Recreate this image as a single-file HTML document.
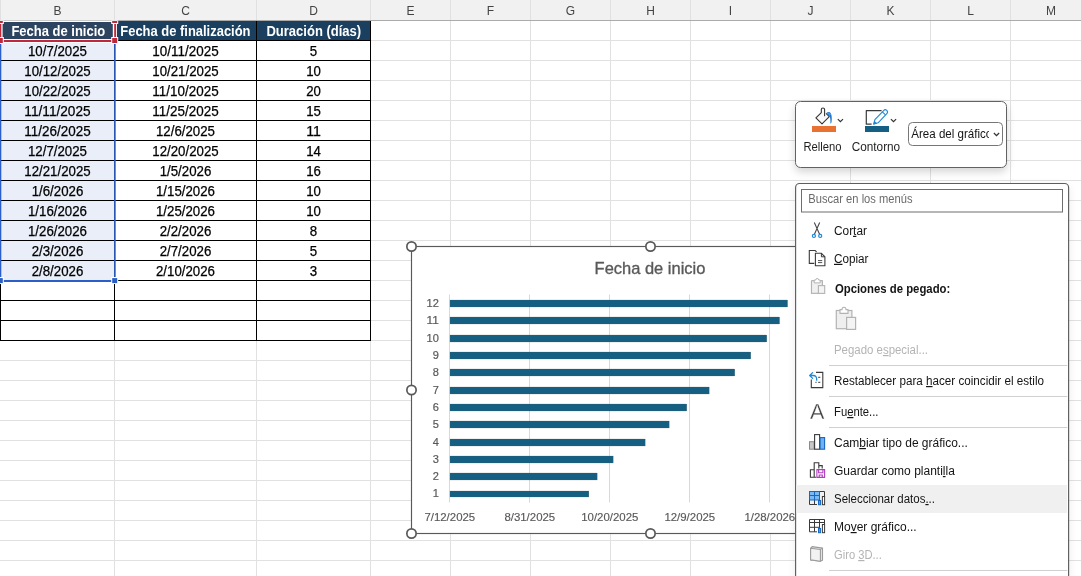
<!DOCTYPE html>
<html lang="es">
<head>
<meta charset="utf-8">
<title>Excel - Diagrama de Gantt</title>
<style>
html,body{margin:0;padding:0;background:#fff;overflow:hidden}
body{width:1081px;height:576px}
svg{display:block;font-family:"Liberation Sans",sans-serif}
</style>
</head>
<body>
<svg width="1081" height="576" viewBox="0 0 1081 576">
<defs>
<filter id="sh" x="-10%" y="-10%" width="120%" height="130%"><feGaussianBlur in="SourceAlpha" stdDeviation="4"/><feOffset dy="4"/><feComponentTransfer><feFuncA type="linear" slope="0.17"/></feComponentTransfer></filter>
<filter id="sh2" x="-10%" y="-10%" width="120%" height="130%"><feGaussianBlur in="SourceAlpha" stdDeviation="4"/><feOffset dy="2"/><feComponentTransfer><feFuncA type="linear" slope="0.08"/></feComponentTransfer></filter>
</defs>
<g id="sheet">
<rect x="0" y="0" width="1081" height="576" fill="#ffffff" />
<rect x="114" y="20" width="1" height="556" fill="#e1e1e1" />
<rect x="256" y="20" width="1" height="556" fill="#e1e1e1" />
<rect x="370" y="20" width="1" height="556" fill="#e1e1e1" />
<rect x="450" y="20" width="1" height="556" fill="#e1e1e1" />
<rect x="530" y="20" width="1" height="556" fill="#e1e1e1" />
<rect x="610" y="20" width="1" height="556" fill="#e1e1e1" />
<rect x="690" y="20" width="1" height="556" fill="#e1e1e1" />
<rect x="770" y="20" width="1" height="556" fill="#e1e1e1" />
<rect x="850" y="20" width="1" height="556" fill="#e1e1e1" />
<rect x="930" y="20" width="1" height="556" fill="#e1e1e1" />
<rect x="1010" y="20" width="1" height="556" fill="#e1e1e1" />
<rect x="0" y="40" width="1081" height="1" fill="#e1e1e1" />
<rect x="0" y="60" width="1081" height="1" fill="#e1e1e1" />
<rect x="0" y="80" width="1081" height="1" fill="#e1e1e1" />
<rect x="0" y="100" width="1081" height="1" fill="#e1e1e1" />
<rect x="0" y="120" width="1081" height="1" fill="#e1e1e1" />
<rect x="0" y="140" width="1081" height="1" fill="#e1e1e1" />
<rect x="0" y="160" width="1081" height="1" fill="#e1e1e1" />
<rect x="0" y="180" width="1081" height="1" fill="#e1e1e1" />
<rect x="0" y="200" width="1081" height="1" fill="#e1e1e1" />
<rect x="0" y="220" width="1081" height="1" fill="#e1e1e1" />
<rect x="0" y="240" width="1081" height="1" fill="#e1e1e1" />
<rect x="0" y="260" width="1081" height="1" fill="#e1e1e1" />
<rect x="0" y="280" width="1081" height="1" fill="#e1e1e1" />
<rect x="0" y="300" width="1081" height="1" fill="#e1e1e1" />
<rect x="0" y="320" width="1081" height="1" fill="#e1e1e1" />
<rect x="0" y="340" width="1081" height="1" fill="#e1e1e1" />
<rect x="0" y="360" width="1081" height="1" fill="#e1e1e1" />
<rect x="0" y="380" width="1081" height="1" fill="#e1e1e1" />
<rect x="0" y="400" width="1081" height="1" fill="#e1e1e1" />
<rect x="0" y="420" width="1081" height="1" fill="#e1e1e1" />
<rect x="0" y="440" width="1081" height="1" fill="#e1e1e1" />
<rect x="0" y="460" width="1081" height="1" fill="#e1e1e1" />
<rect x="0" y="480" width="1081" height="1" fill="#e1e1e1" />
<rect x="0" y="500" width="1081" height="1" fill="#e1e1e1" />
<rect x="0" y="520" width="1081" height="1" fill="#e1e1e1" />
<rect x="0" y="540" width="1081" height="1" fill="#e1e1e1" />
<rect x="0" y="560" width="1081" height="1" fill="#e1e1e1" />
<rect x="0" y="0" width="1081" height="20" fill="#f1f1f1" />
<rect x="0" y="20" width="1081" height="1" fill="#ababab" />
<rect x="0" y="0" width="1" height="20" fill="#e0e0e0" />
<rect x="114" y="0" width="1" height="20" fill="#e0e0e0" />
<rect x="256" y="0" width="1" height="20" fill="#e0e0e0" />
<rect x="370" y="0" width="1" height="20" fill="#e0e0e0" />
<rect x="450" y="0" width="1" height="20" fill="#e0e0e0" />
<rect x="530" y="0" width="1" height="20" fill="#e0e0e0" />
<rect x="610" y="0" width="1" height="20" fill="#e0e0e0" />
<rect x="690" y="0" width="1" height="20" fill="#e0e0e0" />
<rect x="770" y="0" width="1" height="20" fill="#e0e0e0" />
<rect x="850" y="0" width="1" height="20" fill="#e0e0e0" />
<rect x="930" y="0" width="1" height="20" fill="#e0e0e0" />
<rect x="1010" y="0" width="1" height="20" fill="#e0e0e0" />
<g font-size="12" fill="#444444" text-anchor="middle">
<text x="57.5" y="15">B</text>
<text x="185.5" y="15">C</text>
<text x="313.5" y="15">D</text>
<text x="410.5" y="15">E</text>
<text x="490.5" y="15">F</text>
<text x="570.5" y="15">G</text>
<text x="650.5" y="15">H</text>
<text x="730.5" y="15">I</text>
<text x="810.5" y="15">J</text>
<text x="890.5" y="15">K</text>
<text x="970.5" y="15">L</text>
<text x="1051" y="15">M</text>
</g>
</g>
<g id="table">
<rect x="1" y="41" width="113" height="239" fill="#e9eef8" />
<rect x="1" y="21" width="113" height="19" fill="#2c4460" />
<rect x="115" y="21" width="141" height="19" fill="#1b405f" />
<rect x="257" y="21" width="113" height="19" fill="#1b405f" />
<rect x="0" y="40" width="371" height="1" fill="#000000" />
<rect x="0" y="60" width="371" height="1" fill="#000000" />
<rect x="0" y="80" width="371" height="1" fill="#000000" />
<rect x="0" y="100" width="371" height="1" fill="#000000" />
<rect x="0" y="120" width="371" height="1" fill="#000000" />
<rect x="0" y="140" width="371" height="1" fill="#000000" />
<rect x="0" y="160" width="371" height="1" fill="#000000" />
<rect x="0" y="180" width="371" height="1" fill="#000000" />
<rect x="0" y="200" width="371" height="1" fill="#000000" />
<rect x="0" y="220" width="371" height="1" fill="#000000" />
<rect x="0" y="240" width="371" height="1" fill="#000000" />
<rect x="0" y="260" width="371" height="1" fill="#000000" />
<rect x="0" y="280" width="371" height="1" fill="#000000" />
<rect x="0" y="300" width="371" height="1" fill="#000000" />
<rect x="0" y="320" width="371" height="1" fill="#000000" />
<rect x="0" y="340" width="371" height="1" fill="#000000" />
<rect x="0" y="21" width="1" height="320" fill="#000000" />
<rect x="114" y="21" width="1" height="320" fill="#000000" />
<rect x="256" y="21" width="1" height="320" fill="#000000" />
<rect x="370" y="21" width="1" height="320" fill="#000000" />
<g font-size="14" fill="#000000" text-anchor="middle" stroke="#000000" stroke-width="0.25">
<text x="57.5" y="56" textLength="59.0" lengthAdjust="spacingAndGlyphs">10/7/2025</text>
<text x="185.5" y="56" textLength="66.3" lengthAdjust="spacingAndGlyphs">10/11/2025</text>
<text x="313.5" y="56" textLength="7.4" lengthAdjust="spacingAndGlyphs">5</text>
<text x="57.5" y="76" textLength="66.3" lengthAdjust="spacingAndGlyphs">10/12/2025</text>
<text x="185.5" y="76" textLength="66.3" lengthAdjust="spacingAndGlyphs">10/21/2025</text>
<text x="313.5" y="76" textLength="14.7" lengthAdjust="spacingAndGlyphs">10</text>
<text x="57.5" y="96" textLength="66.3" lengthAdjust="spacingAndGlyphs">10/22/2025</text>
<text x="185.5" y="96" textLength="66.3" lengthAdjust="spacingAndGlyphs">11/10/2025</text>
<text x="313.5" y="96" textLength="14.7" lengthAdjust="spacingAndGlyphs">20</text>
<text x="57.5" y="116" textLength="66.3" lengthAdjust="spacingAndGlyphs">11/11/2025</text>
<text x="185.5" y="116" textLength="66.3" lengthAdjust="spacingAndGlyphs">11/25/2025</text>
<text x="313.5" y="116" textLength="14.7" lengthAdjust="spacingAndGlyphs">15</text>
<text x="57.5" y="136" textLength="66.3" lengthAdjust="spacingAndGlyphs">11/26/2025</text>
<text x="185.5" y="136" textLength="59.0" lengthAdjust="spacingAndGlyphs">12/6/2025</text>
<text x="313.5" y="136" textLength="14.7" lengthAdjust="spacingAndGlyphs">11</text>
<text x="57.5" y="156" textLength="59.0" lengthAdjust="spacingAndGlyphs">12/7/2025</text>
<text x="185.5" y="156" textLength="66.3" lengthAdjust="spacingAndGlyphs">12/20/2025</text>
<text x="313.5" y="156" textLength="14.7" lengthAdjust="spacingAndGlyphs">14</text>
<text x="57.5" y="176" textLength="66.3" lengthAdjust="spacingAndGlyphs">12/21/2025</text>
<text x="185.5" y="176" textLength="51.6" lengthAdjust="spacingAndGlyphs">1/5/2026</text>
<text x="313.5" y="176" textLength="14.7" lengthAdjust="spacingAndGlyphs">16</text>
<text x="57.5" y="196" textLength="51.6" lengthAdjust="spacingAndGlyphs">1/6/2026</text>
<text x="185.5" y="196" textLength="59.0" lengthAdjust="spacingAndGlyphs">1/15/2026</text>
<text x="313.5" y="196" textLength="14.7" lengthAdjust="spacingAndGlyphs">10</text>
<text x="57.5" y="216" textLength="59.0" lengthAdjust="spacingAndGlyphs">1/16/2026</text>
<text x="185.5" y="216" textLength="59.0" lengthAdjust="spacingAndGlyphs">1/25/2026</text>
<text x="313.5" y="216" textLength="14.7" lengthAdjust="spacingAndGlyphs">10</text>
<text x="57.5" y="236" textLength="59.0" lengthAdjust="spacingAndGlyphs">1/26/2026</text>
<text x="185.5" y="236" textLength="51.6" lengthAdjust="spacingAndGlyphs">2/2/2026</text>
<text x="313.5" y="236" textLength="7.4" lengthAdjust="spacingAndGlyphs">8</text>
<text x="57.5" y="256" textLength="51.6" lengthAdjust="spacingAndGlyphs">2/3/2026</text>
<text x="185.5" y="256" textLength="51.6" lengthAdjust="spacingAndGlyphs">2/7/2026</text>
<text x="313.5" y="256" textLength="7.4" lengthAdjust="spacingAndGlyphs">5</text>
<text x="57.5" y="276" textLength="51.6" lengthAdjust="spacingAndGlyphs">2/8/2026</text>
<text x="185.5" y="276" textLength="59.0" lengthAdjust="spacingAndGlyphs">2/10/2026</text>
<text x="313.5" y="276" textLength="7.4" lengthAdjust="spacingAndGlyphs">3</text>
</g>
<g font-size="14" fill="#ffffff" font-weight="bold" text-anchor="middle">
<text x="58.3" y="36" textLength="93.8" lengthAdjust="spacingAndGlyphs">Fecha de inicio</text>
<text x="185.4" y="36" textLength="130.2" lengthAdjust="spacingAndGlyphs">Fecha de finalización</text>
<text x="313.8" y="36" textLength="94.8" lengthAdjust="spacingAndGlyphs">Duración (días)</text>
</g>
<rect x="0" y="43" width="1.3" height="238" fill="#2b5fc7" />
<rect x="114.1" y="43" width="1.6" height="238" fill="#2b5fc7" />
<rect x="0" y="280" width="116" height="2" fill="#2b5fc7" />
<rect x="-3.2" y="277" width="7" height="7" fill="#ffffff" />
<rect x="-2.2" y="278.1" width="5" height="5" fill="#2b5fc7" />
<rect x="111.2" y="277" width="7" height="7" fill="#ffffff" />
<rect x="112.2" y="278.1" width="5" height="5" fill="#2b5fc7" />
<rect x="-1" y="20.6" width="118" height="0.4" fill="#ffffff" />
<rect x="112.5" y="21" width="4.5" height="22" fill="#ffffff" />
<rect x="0" y="39" width="117" height="4" fill="#ffffff" />
<rect x="0" y="21" width="1.3" height="20" fill="#c0273a" />
<rect x="114.2" y="21" width="1.9" height="20" fill="#c0273a" />
<rect x="0" y="40" width="116" height="2" fill="#c0273a" />
<rect x="2.6" y="22" width="110" height="17" fill="#2c4460" />
<rect x="1.3" y="21" width="1.3" height="18" fill="#ffffff" />
<rect x="2" y="21" width="111" height="1" fill="#ffffff" />
<rect x="-3.2" y="37" width="7" height="7" fill="#ffffff" />
<rect x="-2.2" y="38" width="5" height="5" fill="#c0273a" />
<rect x="-3.2" y="20.5" width="7" height="3.5" fill="#ffffff" />
<rect x="-2.2" y="21" width="5" height="2" fill="#c0273a" />
<rect x="111.2" y="37" width="7" height="7" fill="#ffffff" />
<rect x="112.2" y="38" width="5" height="5" fill="#c0273a" />
<rect x="111.2" y="20.5" width="7" height="3.5" fill="#ffffff" />
<rect x="112.2" y="21" width="5" height="2" fill="#c0273a" />
<text x="58.3" y="36" font-size="14" fill="#ffffff" font-weight="bold" text-anchor="middle" textLength="93.8" lengthAdjust="spacingAndGlyphs">Fecha de inicio</text>
</g>
<g id="chart">
<rect x="411.5" y="246.5" width="478" height="287" fill="#ffffff" stroke="#595959" stroke-width="1.15"/>
<rect x="449" y="294.5" width="1" height="208" fill="#d9d9d9" />
<rect x="529" y="294.5" width="1" height="208" fill="#d9d9d9" />
<rect x="609" y="294.5" width="1" height="208" fill="#d9d9d9" />
<rect x="689" y="294.5" width="1" height="208" fill="#d9d9d9" />
<rect x="769" y="294.5" width="1" height="208" fill="#d9d9d9" />
<rect x="849" y="294.5" width="1" height="208" fill="#d9d9d9" />
<g font-size="10.8" fill="#595959" text-anchor="end" stroke="#595959" stroke-width="0.2">
<rect x="450" y="491" width="138.9" height="6" fill="#156082" />
<text x="438.8" y="496.9" textLength="6.15" lengthAdjust="spacingAndGlyphs">1</text>
<rect x="450" y="473" width="147.2" height="7" fill="#156082" />
<text x="438.8" y="479.9" textLength="6.15" lengthAdjust="spacingAndGlyphs">2</text>
<rect x="450" y="456" width="163.2" height="7" fill="#156082" />
<text x="438.8" y="462.9" textLength="6.15" lengthAdjust="spacingAndGlyphs">3</text>
<rect x="450" y="439" width="195.2" height="7" fill="#156082" />
<text x="438.8" y="445.9" textLength="6.15" lengthAdjust="spacingAndGlyphs">4</text>
<rect x="450" y="421" width="219.2" height="7" fill="#156082" />
<text x="438.8" y="427.9" textLength="6.15" lengthAdjust="spacingAndGlyphs">5</text>
<rect x="450" y="404" width="236.8" height="7" fill="#156082" />
<text x="438.8" y="410.9" textLength="6.15" lengthAdjust="spacingAndGlyphs">6</text>
<rect x="450" y="387" width="259.2" height="7" fill="#156082" />
<text x="438.8" y="393.9" textLength="6.15" lengthAdjust="spacingAndGlyphs">7</text>
<rect x="450" y="369" width="284.8" height="7" fill="#156082" />
<text x="438.8" y="375.9" textLength="6.15" lengthAdjust="spacingAndGlyphs">8</text>
<rect x="450" y="352" width="300.8" height="7" fill="#156082" />
<text x="438.8" y="358.9" textLength="6.15" lengthAdjust="spacingAndGlyphs">9</text>
<rect x="450" y="335" width="316.8" height="7" fill="#156082" />
<text x="438.8" y="341.9" textLength="12.3" lengthAdjust="spacingAndGlyphs">10</text>
<rect x="450" y="317" width="329.6" height="7" fill="#156082" />
<text x="438.8" y="323.9" textLength="12.3" lengthAdjust="spacingAndGlyphs">11</text>
<rect x="450" y="300" width="337.6" height="7" fill="#156082" />
<text x="438.8" y="306.9" textLength="12.3" lengthAdjust="spacingAndGlyphs">12</text>
</g>
<g font-size="11.3" fill="#595959" text-anchor="middle" stroke="#595959" stroke-width="0.15">
<text x="449.8" y="520.5" textLength="50.8" lengthAdjust="spacingAndGlyphs">7/12/2025</text>
<text x="529.8" y="520.5" textLength="50.8" lengthAdjust="spacingAndGlyphs">8/31/2025</text>
<text x="609.8" y="520.5" textLength="57.2" lengthAdjust="spacingAndGlyphs">10/20/2025</text>
<text x="689.8" y="520.5" textLength="50.8" lengthAdjust="spacingAndGlyphs">12/9/2025</text>
<text x="769.8" y="520.5" textLength="50.8" lengthAdjust="spacingAndGlyphs">1/28/2026</text>
</g>
<text x="650" y="274.4" text-anchor="middle" textLength="110.8" lengthAdjust="spacingAndGlyphs" font-size="17" fill="#595959" stroke="#595959" stroke-width="0.35">Fecha de inicio</text>
<circle cx="411.5" cy="246.5" r="4.65" fill="#ffffff" stroke="#595959" stroke-width="1.7"/>
<circle cx="650.5" cy="246.5" r="4.65" fill="#ffffff" stroke="#595959" stroke-width="1.7"/>
<circle cx="411.5" cy="390" r="4.65" fill="#ffffff" stroke="#595959" stroke-width="1.7"/>
<circle cx="411.5" cy="533.5" r="4.65" fill="#ffffff" stroke="#595959" stroke-width="1.7"/>
<circle cx="650.5" cy="533.5" r="4.65" fill="#ffffff" stroke="#595959" stroke-width="1.7"/>
<circle cx="889.5" cy="246.5" r="4.65" fill="#ffffff" stroke="#595959" stroke-width="1.7"/>
<circle cx="889.5" cy="390" r="4.65" fill="#ffffff" stroke="#595959" stroke-width="1.7"/>
<circle cx="889.5" cy="533.5" r="4.65" fill="#ffffff" stroke="#595959" stroke-width="1.7"/>
</g>
<g id="minitoolbar">
<rect x="795.5" y="101.5" width="211" height="66" rx="5" fill="#ffffff" stroke="#626262" filter="url(#sh)"/>
<rect x="795.5" y="101.5" width="211" height="66" rx="5" fill="#ffffff" stroke="#626262"/>
<rect x="812" y="126" width="24" height="6" fill="#e97132" />
<rect x="865" y="126" width="24" height="6" fill="#156082" />
<g font-size="12" fill="#1f1f1f">
<text x="803.4" y="151.1" textLength="38.1" lengthAdjust="spacingAndGlyphs">Relleno</text>
<text x="851.7" y="151.1" textLength="48.5" lengthAdjust="spacingAndGlyphs">Contorno</text>
</g>
<rect x="908.5" y="122.5" width="94" height="23" rx="4" fill="#ffffff" stroke="#777777"/>
<clipPath id="ddc"><rect x="909" y="123" width="80" height="22"/></clipPath>
<g clip-path="url(#ddc)">
<text x="911.3" y="137.8" textLength="80.9" lengthAdjust="spacingAndGlyphs" font-size="12" fill="#141414">Área del gráfico</text>
</g>
<path d="M993.9 133 l2.6 2.6 l2.6 -2.6" fill="none" stroke="#333" stroke-width="1.3"/>
<path d="M837.8 119.1 l2.6 2.6 l2.6 -2.6" fill="none" stroke="#333" stroke-width="1.2"/>
<path d="M890.9 119.1 l2.6 2.6 l2.6 -2.6" fill="none" stroke="#333" stroke-width="1.2"/>
<g id="ico-fill" fill="none" stroke-linejoin="round" stroke-linecap="round">
<path d="M824.6 115.7 V109.6 a1.65 1.65 0 0 0 -3.3 0 V112.6 L815.9 117.9 L822 123.9 L829.3 116.6 L826.3 113.6" fill="#f9f9f9" stroke="#333333" stroke-width="1.1"/>
<path d="M826.2 113.3 C827.5 111.6 830.2 111.5 831.2 114.2 C832 116.8 831.9 120.5 831.4 122.8 L830.4 123.7 C830.5 120.5 830.4 117.5 829.4 115.8 C828.7 114.6 827.4 114.3 826.9 114.4 Z" fill="#1f78d1" stroke="none"/>
<path d="M827.6 113.2 C828.6 112.8 829.6 113.3 830.1 114.6" stroke="#7db8ee" stroke-width="0.8"/>
</g>
<g id="ico-outline" fill="none" stroke-linejoin="round">
<path d="M881.6 110.6 H866.3 V124.2 H871.6" stroke="#3a3a3a" stroke-width="1.2"/>
<g transform="translate(873.6 124.3) rotate(-46.5)" stroke="#1e88d8" stroke-width="1.1">
<path d="M0.3 0 L4.2 -2.2 H16.9 a2.2 2.2 0 0 1 0 4.4 H4.2 Z" fill="#ffffff"/>
<path d="M0.3 0 L2.6 -1.25 V1.25 Z" fill="#1e88d8"/>
<path d="M15 -2.2 V2.2" />
</g>
</g>
</g>
<g id="contextmenu">
<rect x="795.6" y="183.5" width="273" height="420" rx="4" fill="#ffffff" stroke="#5e5e5e" stroke-width="1.15" filter="url(#sh2)"/>
<rect x="795.6" y="183.5" width="273" height="420" rx="4" fill="#ffffff" stroke="#5e5e5e" stroke-width="1.15"/>
<rect x="801.5" y="189.5" width="261" height="22.5" fill="#ffffff" stroke="#6e6e6e"/>
<text x="808.3" y="203" textLength="104.2" lengthAdjust="spacingAndGlyphs" font-size="12" fill="#6a6a6a">Buscar en los menús</text>
<rect x="796.3" y="485" width="270.8" height="28" fill="#f0f0f0" />
<rect x="829" y="365" width="238.3" height="1" fill="#d0d0d0" />
<rect x="829" y="396" width="238.3" height="1" fill="#d0d0d0" />
<rect x="829" y="427" width="238.3" height="1" fill="#d0d0d0" />
<rect x="829" y="570" width="238.3" height="1" fill="#d0d0d0" />
<g font-size="12">
<text x="834.0" y="234.8" textLength="32.9" lengthAdjust="spacingAndGlyphs" fill="#141414">Cor<tspan text-decoration="underline">t</tspan>ar</text>
<text x="834.0" y="262.8" textLength="34.5" lengthAdjust="spacingAndGlyphs" fill="#141414"><tspan text-decoration="underline">C</tspan>opiar</text>
<text x="834.9" y="292.5" textLength="115.4" lengthAdjust="spacingAndGlyphs" fill="#141414" font-weight="bold">Opciones de pegado:</text>
<text x="834.0" y="354.0" textLength="94.0" lengthAdjust="spacingAndGlyphs" fill="#b4b4b4">Pegado e<tspan text-decoration="underline">s</tspan>pecial...</text>
<text x="834.0" y="385" textLength="210.0" lengthAdjust="spacingAndGlyphs" fill="#141414">Restablecer para <tspan text-decoration="underline">h</tspan>acer coincidir el estilo</text>
<text x="834.0" y="416" textLength="44.5" lengthAdjust="spacingAndGlyphs" fill="#141414">Fu<tspan text-decoration="underline">e</tspan>nte...</text>
<text x="834.0" y="447" textLength="133.8" lengthAdjust="spacingAndGlyphs" fill="#141414">Cam<tspan text-decoration="underline">b</tspan>iar tipo de gráfico...</text>
<text x="834.0" y="475" textLength="120.9" lengthAdjust="spacingAndGlyphs" fill="#141414">Guardar como planti<tspan text-decoration="underline">l</tspan>la</text>
<text x="834.0" y="503" textLength="101.0" lengthAdjust="spacingAndGlyphs" fill="#141414">Seleccionar datos<tspan text-decoration="underline">.</tspan>..</text>
<text x="834.0" y="531" textLength="82.7" lengthAdjust="spacingAndGlyphs" fill="#141414">Mo<tspan text-decoration="underline">v</tspan>er gráfico...</text>
<text x="834.0" y="559" textLength="47.8" lengthAdjust="spacingAndGlyphs" fill="#b4b4b4">Giro <tspan text-decoration="underline">3</tspan>D...</text>
</g>
<g id="icons" fill="none" stroke-linejoin="miter">
<path d="M814.3 222.4 L819.7 234.4 M819.7 222.4 L814.3 234.4" stroke="#4a4a4a" stroke-width="1.1"/>
<circle cx="813.9" cy="235.9" r="1.55" stroke="#1e88d8" stroke-width="1.2"/><circle cx="820.2" cy="235.9" r="1.55" stroke="#1e88d8" stroke-width="1.2"/>
<path d="M814.3 263.4 H809.3 V250.5 H815.2 L816.6 251.9" stroke="#3a3a3a" stroke-width="1.1"/>
<path d="M815.4 253.3 H821.4 L824.9 256.8 V265.7 H815.4 Z" stroke="#3a3a3a" stroke-width="1.1" fill="#ffffff"/>
<path d="M821.4 253.3 V256.8 H824.9" stroke="#3a3a3a" stroke-width="1"/>
<path d="M818 260.6 H822.2 M818 262.6 H822.2" stroke="#3a3a3a" stroke-width="0.9"/>
<path d="M811.5 280.7 H822.3 V285 M818 293.3 H811.5 V280.7" stroke="#b3b3b3" stroke-width="1.1" fill="none"/>
<rect x="812" y="281.2" width="9.8" height="11.6" fill="#f0f0f0" stroke="none"/>
<path d="M811.5 280.7 V293.3 H818 M822.3 285 V280.7 H811.5" stroke="#b3b3b3" stroke-width="1.1"/>
<path d="M814.2 282.9 V280 H815.8 a1.4 1.6 0 0 1 2.8 0 H820.2 V282.9 Z" fill="#ffffff" stroke="#b3b3b3" stroke-width="1"/>
<rect x="818.4" y="285.6" width="6.3" height="7.8" fill="#f4f4f4" stroke="#b3b3b3" stroke-width="1.1"/>
<rect x="836.3" y="310.5" width="15.6" height="18.2" fill="#efefef" stroke="#b3b3b3" stroke-width="1.2"/>
<path d="M840 313.4 V309.6 H842 a2 2.4 0 0 1 4 0 H848 V313.4 Z" fill="#ffffff" stroke="#b3b3b3" stroke-width="1.1"/>
<rect x="846.6" y="317.4" width="9" height="12" fill="#f4f4f4" stroke="#b3b3b3" stroke-width="1.2"/>
<path d="M816 372.4 H822.8 V387.6 H811.3 V379.5" stroke="#3a3a3a" stroke-width="1.1"/>
<path d="M818.2 377.3 H820.3 M818.2 382.3 H820.3 M815.4 382.3 H816.6" stroke="#3a3a3a" stroke-width="1"/>
<path d="M812.6 372.6 L809.7 375.5 L812.6 378.4 M809.9 375.5 H813.2 C815.6 375.5 816.9 377.2 816.7 380.2" stroke="#1e88d8" stroke-width="1.3" stroke-linecap="round" stroke-linejoin="round"/>
<rect x="809.5" y="441.7" width="4.6" height="7.5" fill="#c8c8c8" stroke="#8a8a8a" stroke-width="1"/>
<rect x="814.6" y="434.6" width="5" height="14.6" fill="#ffffff" stroke="#3a3a3a" stroke-width="1.1"/>
<rect x="820.1" y="437.6" width="4.5" height="11.6" fill="#6fb3ee" stroke="#1766c2" stroke-width="1.1"/>
<path d="M814.2 469.7 H810.4 V477.3 H816.2 M814.2 477.3 V462.7 H818.8 V468.6 M818.8 465.6 H822.2 V468.6" stroke="#3a3a3a" stroke-width="1.1"/>
<path d="M816.9 469.6 H824.6 V477.4 H816.9 Z M818.6 469.8 V472.8 H822.9 V469.8 M819.2 477.2 V475 H822.3 V477.2" stroke="#b03cc0" stroke-width="1.1"/>
<path d="M819.5 491.5 H824.5 V496.5 M809.5 499.5 V504.5 H817 M814.5 499.5 V504.5" stroke="#3a3a3a" stroke-width="1"/>
<rect x="809.5" y="491.5" width="10" height="8.5" fill="#7ab9f2" stroke="#1766c2" stroke-width="1"/>
<path d="M814.5 491.5 V500 M809.5 495.5 H819.5" stroke="#1766c2" stroke-width="1"/>
<rect x="822.4" y="496.5" width="2.2" height="8.2" fill="#ffffff" stroke="#3a3a3a" stroke-width="1"/>
<rect x="818.5" y="500.5" width="2.1" height="4.2" fill="#4f9fe8" stroke="#1766c2" stroke-width="1"/>
<path d="M824.5 524.5 V519.5 H809.5 V531.8 H817 M809.5 522.5 H824.5 M809.5 527.3 H820 M814.5 519.5 V531.8 M819.5 519.5 V527.5" stroke="#3a3a3a" stroke-width="1"/>
<rect x="822.4" y="524.5" width="2.2" height="8.2" fill="#ffffff" stroke="#3a3a3a" stroke-width="1"/>
<rect x="818.5" y="528.5" width="2.1" height="4.2" fill="#4f9fe8" stroke="#1766c2" stroke-width="1"/>
<path d="M810.6 548.3 L812.1 546.6 L822.5 548.1 L822.5 560.3 L820.4 561.3 L810.6 559.9 Z" fill="#e6e6e6" stroke="#9c9c9c" stroke-width="1.1" stroke-linejoin="round"/>
<path d="M810.6 548.3 L820.4 549.5 L820.4 561.3 L810.6 559.9 Z" fill="#f2f2f2" stroke="#9c9c9c" stroke-width="1.1" stroke-linejoin="round"/>
<path d="M820.4 549.5 L822.5 548.1" stroke="#9c9c9c" stroke-width="1"/>
</g>
<text x="817.1" y="419.1" font-size="22.5" fill="#444444" text-anchor="middle" textLength="14.4" lengthAdjust="spacingAndGlyphs" stroke="#ffffff" stroke-width="0.3">A</text>
</g>
</svg>
</body>
</html>
